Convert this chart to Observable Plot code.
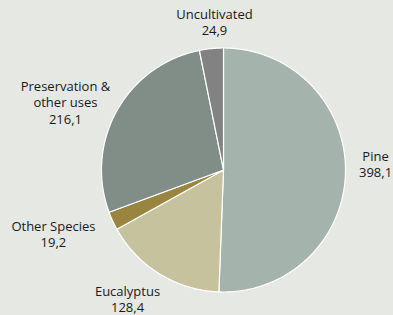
<!DOCTYPE html>
<html>
<head>
<meta charset="utf-8">
<script src="https://cdn.jsdelivr.net/npm/d3@7"></script>
<script src="https://cdn.jsdelivr.net/npm/@observablehq/plot@0.6"></script>
<style>
  html, body { margin: 0; padding: 0; background: #e5e8e3; }
  #chart svg { display: block; }
</style>
</head>
<body>
<div id="chart"></div>
<script>
// Data
const categories = ["Pine", "Eucalyptus", "Other Species", "Preservation &\nother uses", "Uncultivated"];
const values = [398.1, 128.4, 19.2, 216.1, 24.9];
const colors = ["#a4b3ac", "#c5c29d", "#9a8540", "#818d87", "#828282"];

// Layout (label distance from centre, in pie radii, and angle shift in degrees)
const labelRadius = [1.247, 1.318, 1.489, 1.41, 1.215];
const labelAngleShift = [-3.4, 5.1, 4.1, -5.9, 2.2];

const W = 393, H = 315, R = 122, CX = 223, CY = 169.5;
const total = d3.sum(values);
const fmt = v => d3.format(".1f")(v).replace(".", ",");

// Build slice polygons (unit radius) clockwise from 12 o'clock
const polys = [];
const labels = [];
let acc = 0;
categories.forEach((name, i) => {
  const a0 = acc / total * 2 * Math.PI;
  acc += values[i];
  const a1 = acc / total * 2 * Math.PI;
  polys.push({name, x: 0, y: 0});
  const n = Math.max(2, Math.ceil((a1 - a0) / (Math.PI / 360)));
  for (let j = 0; j <= n; j++) {
    const a = a0 + (a1 - a0) * j / n;
    polys.push({name, x: Math.sin(a), y: Math.cos(a)});
  }
  polys.push({name, x: 0, y: 0});
  const am = (a0 + a1) / 2 + labelAngleShift[i] * Math.PI / 180;
  labels.push({name, text: name + "\n" + fmt(values[i]), x: labelRadius[i] * Math.sin(am), y: labelRadius[i] * Math.cos(am)});
});

const chart = Plot.plot({
  width: W,
  height: H,
  margin: 0,
  style: {background: "#e5e8e3", fontFamily: "'Open Sans', sans-serif"},
  x: {domain: [-CX / R, (W - CX) / R], axis: null},
  y: {domain: [-(H - CY) / R, CY / R], axis: null},
  color: {domain: categories, range: colors},
  marks: [
    Plot.line(polys, {x: "x", y: "y", z: "name", fill: "name", stroke: "white", strokeWidth: 1.2, strokeLinejoin: "round", curve: "linear"}),
    Plot.text(labels, {x: "x", y: "y", text: "text", fill: "#1a1a1a", fontSize: 13, lineHeight: 1.25, textAnchor: "middle", lineAnchor: "middle"})
  ]
});
document.getElementById("chart").appendChild(chart);
</script>
</body>
</html>
